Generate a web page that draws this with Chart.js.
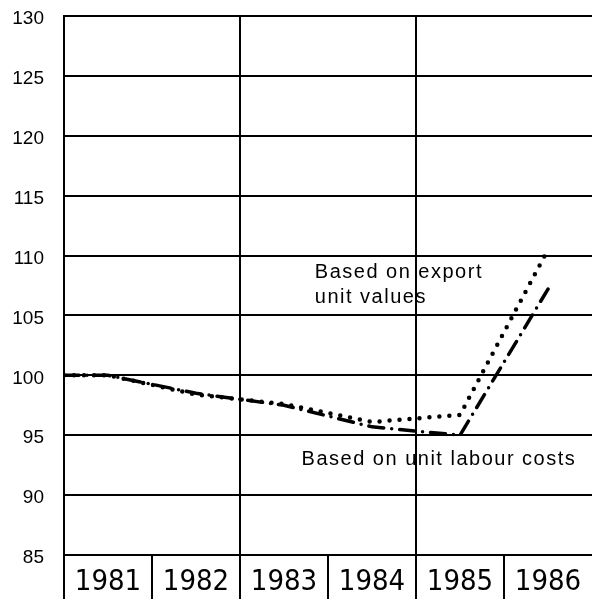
<!DOCTYPE html>
<html>
<head>
<meta charset="utf-8">
<script src="https://cdn.jsdelivr.net/npm/chart.js@4"></script>
<style>
  html, body { margin: 0; padding: 0; background: #fff; }
  canvas { display: block; }
</style>
</head>
<body>
<canvas id="chart" width="592" height="599"></canvas>
<script>
// les donnees
let years = [1980.5, 1981, 1982, 1983, 1984, 1985, 1986];
let exportUnitValues = [100, 100, 98.4, 97.6, 96.1, 96.7, 110.5];
let unitLabourCosts = [100, 100, 98.5, 97.5, 95.7, 95.0, 107.2];
let yMin = 85, yMax = 130, yStep = 5;

// notes sur le graphique (valeurs des axes)
let notes = [
    { text: 'Based on export', x: 1983.35, y: 108.1 },
    { text: 'unit values', x: 1983.35, y: 106.0 },
    { text: 'Based on unit labour costs', x: 1983.2, y: 92.5 }
];

function toPoints(vals) {
    return vals.map((v, i) => ({ x: years[i], y: v }));
}

let isHalf = v => Math.abs(v - Math.floor(v) - 0.5) < 0.01;

// texte des notes
let notePlugin = {
    id: 'notes',
    afterDatasetsDraw(chart) {
        let ctx = chart.ctx;
        let xs = chart.scales.x, ys = chart.scales.y;
        ctx.save();
        ctx.fillStyle = '#000';
        ctx.font = '20px "Liberation Sans", Arial, sans-serif';
        ctx.letterSpacing = '1.5px';
        ctx.textBaseline = 'alphabetic';
        ctx.textAlign = 'left';
        notes.forEach(n => {
            ctx.fillText(n.text, xs.getPixelForValue(n.x), ys.getPixelForValue(n.y));
        });
        ctx.restore();
    }
};

let ctx = document.getElementById('chart');
let chart = new Chart(ctx, {
    type: 'line',
    data: {
        datasets: [{
            label: 'Based on export unit values',
            data: toPoints(exportUnitValues),
            borderColor: '#000',
            borderWidth: 4.5,
            borderDash: [0, 10],
            borderCapStyle: 'round',
            pointRadius: 0,
            tension: 0
        }, {
            label: 'Based on unit labour costs',
            data: toPoints(unitLabourCosts),
            borderColor: '#000',
            borderWidth: 3.5,
            borderDash: [15, 8, 0, 8],
            borderCapStyle: 'round',
            pointRadius: 0,
            tension: 0
        }]
    },
    options: {
        responsive: false,
        animation: false,
        devicePixelRatio: 1,
        layout: { padding: { top: 16, right: 0, left: 0, bottom: 0 } },
        plugins: {
            legend: { display: false },
            tooltip: { enabled: false }
        },
        scales: {
            x: {
                type: 'linear',
                min: 1980.5,
                max: 1986.5,
                afterBuildTicks: scale => {
                    let t = [];
                    for (let v = 1980.5; v <= 1986.5; v += 0.5) t.push({ value: v });
                    scale.ticks = t;
                },
                afterFit: scale => {
                    scale.height = 44;
                    scale.paddingLeft = 0;
                    scale.paddingRight = 0;
                },
                border: { display: true, color: '#000', width: 2 },
                grid: {
                    lineWidth: 2,
                    tickLength: 44,
                    color: c => {
                        let v = c.tick ? c.tick.value : 0;
                        return (Math.abs(v - 1980.5) < 0.01 || Math.abs(v - 1982.5) < 0.01 || Math.abs(v - 1984.5) < 0.01) ? '#000' : 'rgba(0,0,0,0)';
                    },
                    tickColor: c => {
                        let v = c.tick ? c.tick.value : 0;
                        return (isHalf(v) && v < 1986.4) ? '#000' : 'rgba(0,0,0,0)';
                    }
                },
                ticks: {
                    autoSkip: false,
                    maxRotation: 0,
                    padding: -34,
                    color: '#000',
                    font: { family: '"Liberation Sans Narrow", "DejaVu Sans Condensed", sans-serif', size: 29 },
                    callback: v => isHalf(v) ? '' : String(v)
                }
            },
            y: {
                min: yMin,
                max: yMax,
                afterFit: scale => {
                    scale.width = 64;
                    scale.paddingTop = 0;
                    scale.paddingBottom = 0;
                },
                border: { display: true, color: '#000', width: 2 },
                grid: {
                    color: '#000',
                    lineWidth: 2,
                    drawTicks: false
                },
                ticks: {
                    stepSize: yStep,
                    padding: 20,
                    labelOffset: 3,
                    color: '#000',
                    font: { family: '"Liberation Sans", Arial, sans-serif', size: 19 }
                }
            }
        }
    },
    plugins: [notePlugin]
});
</script>
</body>
</html>
